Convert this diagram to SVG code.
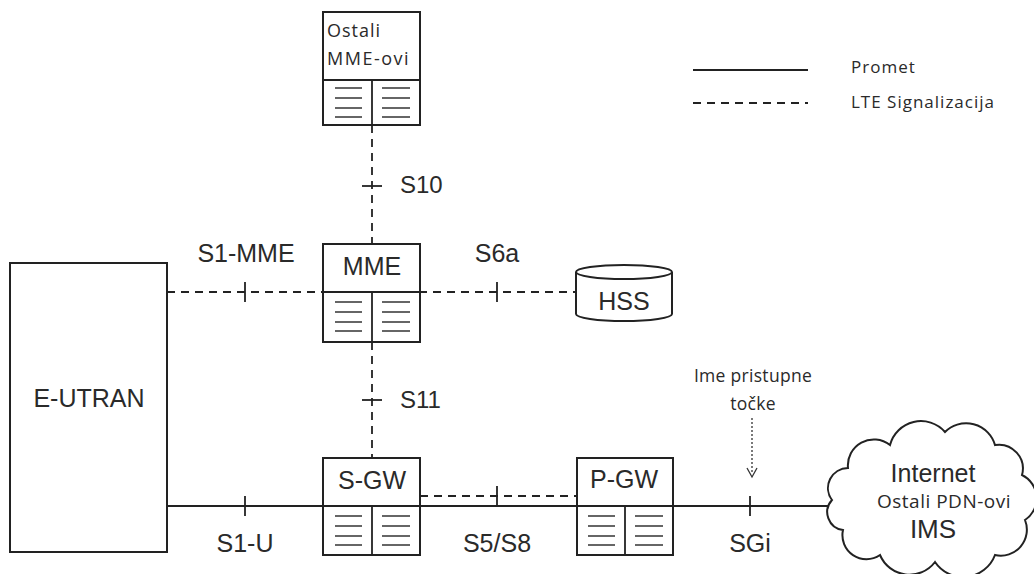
<svg xmlns="http://www.w3.org/2000/svg" width="1034" height="574" viewBox="0 0 1034 574">
<defs>
<style>
.box{fill:#fff;stroke:#222;stroke-width:2}
.ln{stroke:#222;stroke-width:1.8;fill:none}
.ds{stroke:#222;stroke-width:1.8;fill:none;stroke-dasharray:8,6}
.hl{stroke:#666;stroke-width:2}
.a{font-family:"Liberation Sans",Arial,sans-serif;fill:#2a2a2a}
.c{font-family:"Open Sans",Lato,sans-serif;fill:#2a2a2a}
</style>
<g id="cells">
<line class="hl" x1="0" y1="0" x2="27" y2="0"/>
<line class="hl" x1="0" y1="10" x2="27" y2="10"/>
<line class="hl" x1="0" y1="20" x2="27" y2="20"/>
<line class="hl" x1="0" y1="29" x2="27" y2="29"/>
<line class="hl" x1="47" y1="0" x2="75" y2="0"/>
<line class="hl" x1="47" y1="10" x2="75" y2="10"/>
<line class="hl" x1="47" y1="20" x2="75" y2="20"/>
<line class="hl" x1="47" y1="29" x2="75" y2="29"/>
</g>
</defs>
<rect width="1034" height="574" fill="#fff"/>

<g id="connectors">
<line class="ds" x1="372" y1="125" x2="372" y2="244"/>
<line class="ln" x1="362" y1="186" x2="382" y2="186"/>
<line class="ds" x1="372" y1="342" x2="372" y2="458"/>
<line class="ln" x1="362" y1="400" x2="382" y2="400"/>
<line class="ds" x1="167" y1="292" x2="578" y2="292"/>
<line class="ln" x1="245" y1="282" x2="245" y2="302"/>
<line class="ln" x1="497" y1="282" x2="497" y2="302"/>
<line class="ln" x1="167" y1="506" x2="830" y2="506"/>
<line class="ln" x1="245" y1="496" x2="245" y2="516"/>
<line class="ln" x1="750" y1="496" x2="750" y2="516"/>
<line class="ds" x1="420" y1="496" x2="577" y2="496"/>
<line class="ln" x1="497" y1="486" x2="497" y2="506"/>
<line x1="752" y1="418" x2="752" y2="473" stroke="#333" stroke-width="1.3" stroke-dasharray="2,2"/>
<path d="M747,468 L752,477 L757,468" fill="none" stroke="#333" stroke-width="1.3"/>
</g>

<g id="ostali-mme">
<rect class="box" x="323" y="12" width="97" height="113"/>
<line class="ln" x1="323" y1="80" x2="420" y2="80"/>
<line class="ln" x1="372" y1="80" x2="372" y2="125"/>
<use href="#cells" x="335" y="88"/>
<text class="c" x="327" y="37" font-size="18" letter-spacing="1">Ostali</text>
<text class="c" x="327" y="65" font-size="18" letter-spacing="1.5">MME-ovi</text>
</g>

<g id="mme">
<rect class="box" x="323" y="244" width="97" height="98"/>
<line class="ln" x1="323" y1="292" x2="420" y2="292"/>
<line class="ln" x1="372" y1="292" x2="372" y2="342"/>
<use href="#cells" x="335" y="302"/>
<text class="a" x="372" y="275" font-size="25" text-anchor="middle">MME</text>
</g>

<g id="sgw">
<rect class="box" x="323" y="458" width="97" height="97"/>
<line class="ln" x1="323" y1="506" x2="420" y2="506"/>
<line class="ln" x1="372" y1="506" x2="372" y2="555"/>
<use href="#cells" x="335" y="516"/>
<text class="a" x="372" y="489" font-size="25" text-anchor="middle">S-GW</text>
</g>

<g id="pgw">
<rect class="box" x="577" y="458" width="96" height="97"/>
<line class="ln" x1="577" y1="506" x2="673" y2="506"/>
<line class="ln" x1="625" y1="506" x2="625" y2="555"/>
<use href="#cells" x="588" y="516"/>
<text class="a" x="624" y="488" font-size="25" text-anchor="middle">P-GW</text>
</g>

<g id="eutran">
<rect class="box" x="10" y="263" width="157" height="289"/>
<text class="a" x="89" y="407" font-size="25" text-anchor="middle">E-UTRAN</text>
</g>

<g id="hss">
<path class="box" d="M576,272 L576,314 A48,7 0 0 0 672,314 L672,272"/>
<ellipse class="box" cx="624" cy="272" rx="48" ry="7"/>
<text class="a" x="624" y="310" font-size="25" text-anchor="middle">HSS</text>
</g>

<g id="cloud">
<path class="box" d="M848,468 A26,26 0 0 1 890,445 A32,32 0 0 1 945,432 A30,30 0 0 1 995,445 A24,24 0 0 1 1022,475 A26,26 0 0 1 1025,520 A26,26 0 0 1 995,555 A34,34 0 0 1 935,562 A32,32 0 0 1 880,555 A24,24 0 0 1 843,530 A18,18 0 0 1 832,500 A20,20 0 0 1 848,468 Z"/>
<text class="a" x="933" y="482" font-size="25" text-anchor="middle">Internet</text>
<text class="c" x="944" y="508" font-size="19" letter-spacing="0.5" text-anchor="middle">Ostali PDN-ovi</text>
<text class="a" x="933" y="538" font-size="26" text-anchor="middle">IMS</text>
</g>

<g id="labels">
<text class="a" x="400" y="193" font-size="24">S10</text>
<text class="a" x="400" y="408" font-size="24">S11</text>
<text class="a" x="246" y="262" font-size="25" text-anchor="middle">S1-MME</text>
<text class="a" x="497" y="262" font-size="25" text-anchor="middle">S6a</text>
<text class="a" x="245" y="552" font-size="25" text-anchor="middle">S1-U</text>
<text class="a" x="497" y="552" font-size="25" text-anchor="middle">S5/S8</text>
<text class="a" x="750" y="552" font-size="25" text-anchor="middle">SGi</text>
<text class="c" x="753" y="382" font-size="17.5" letter-spacing="0.3" text-anchor="middle">Ime pristupne</text>
<text class="c" x="753" y="410" font-size="17.5" letter-spacing="0.3" text-anchor="middle">točke</text>
</g>

<g id="legend">
<line class="ln" x1="693" y1="70" x2="808" y2="70" stroke="#555"/>
<line class="ds" x1="693" y1="103" x2="808" y2="103" stroke="#555"/>
<text class="c" x="851" y="73" font-size="17" letter-spacing="1">Promet</text>
<text class="c" x="851" y="108" font-size="17" letter-spacing="1">LTE Signalizacija</text>
</g>
</svg>
